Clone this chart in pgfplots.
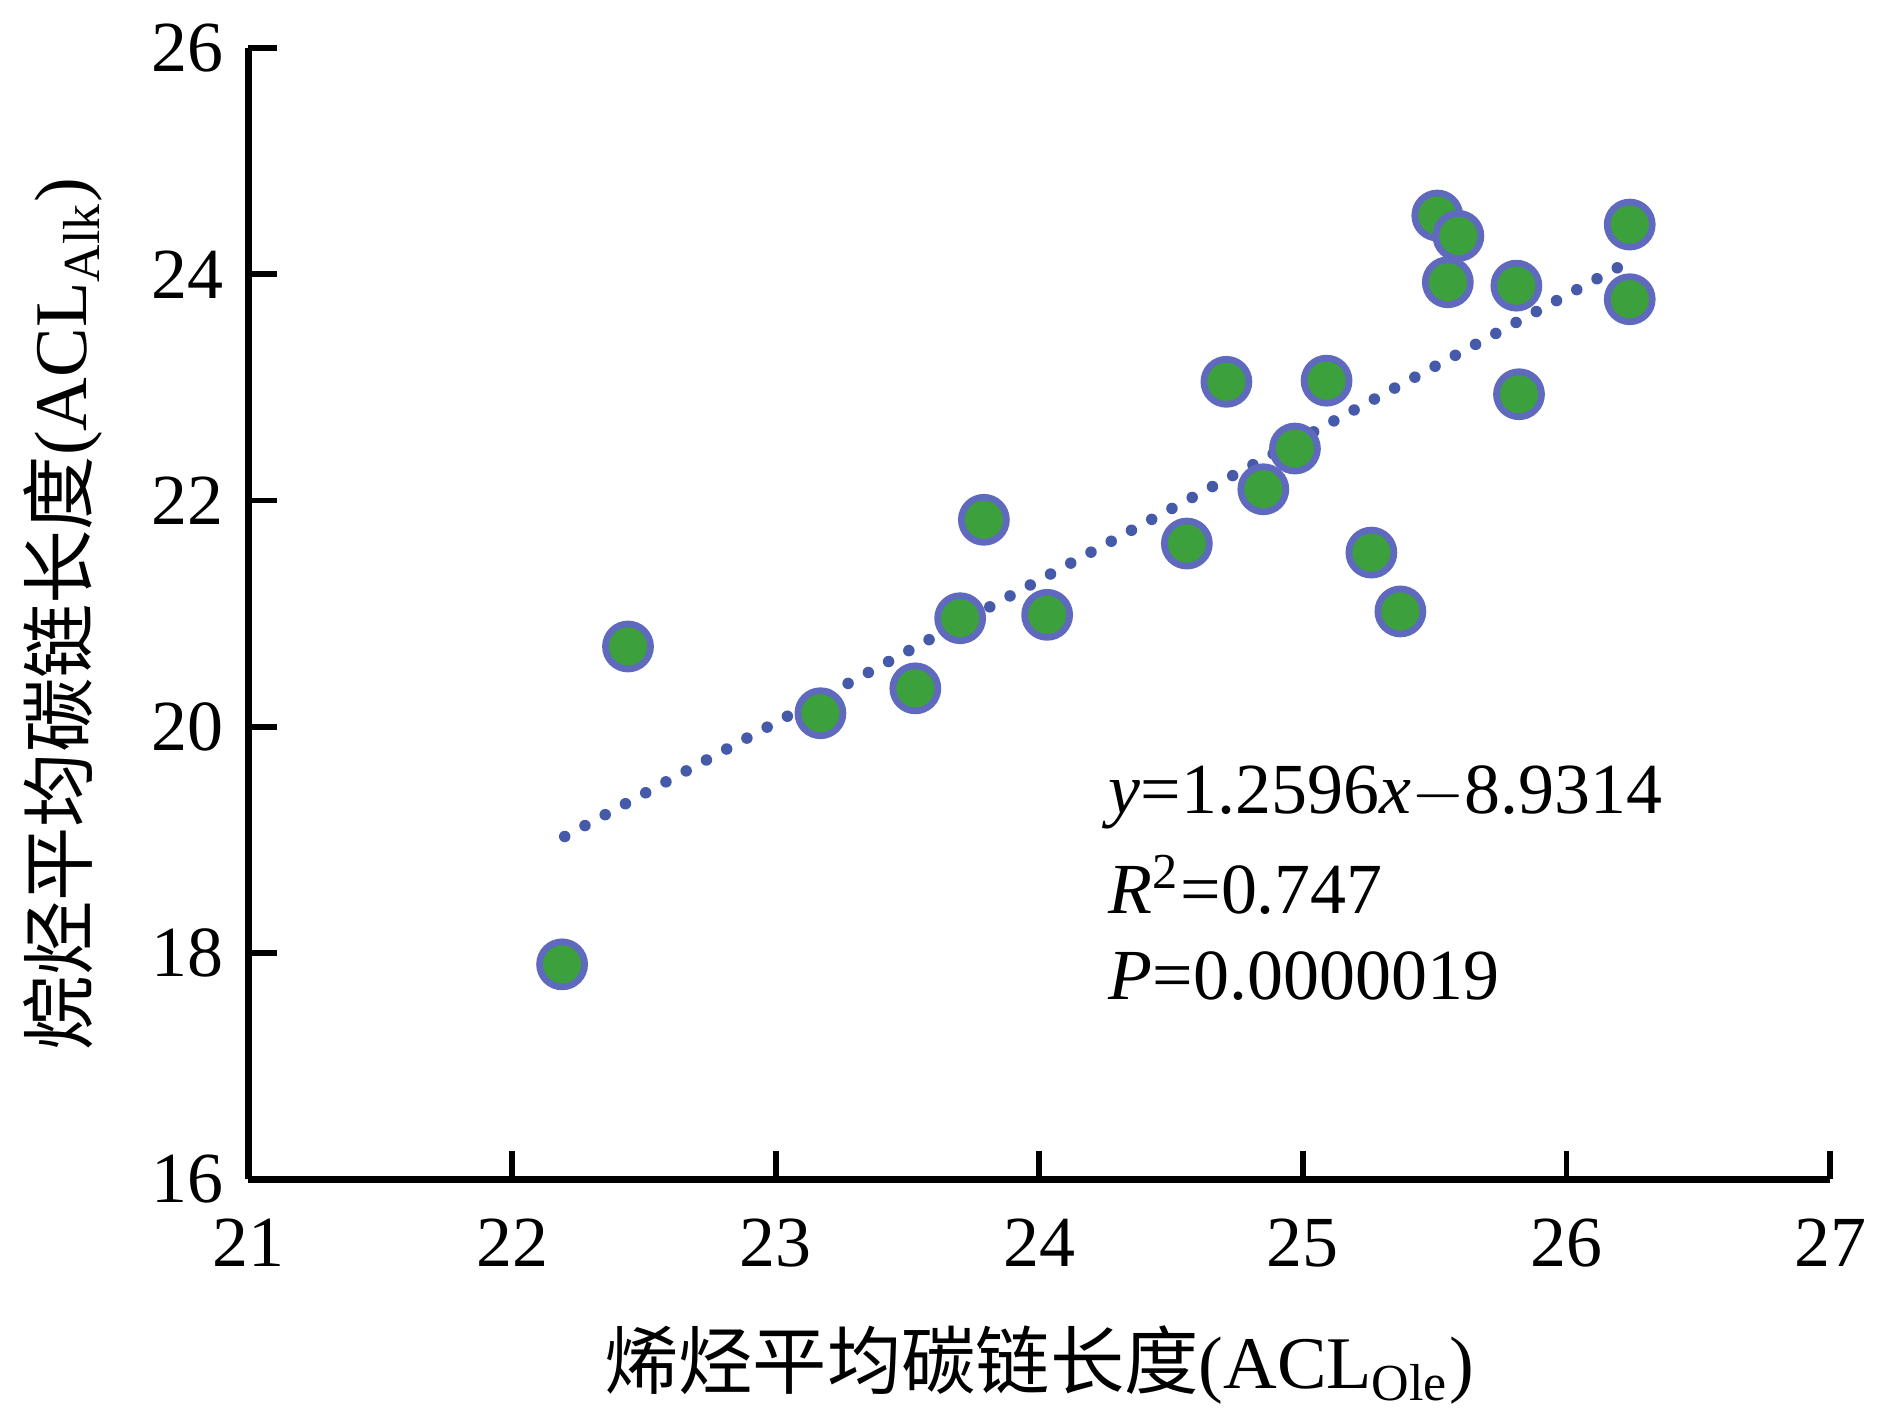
\documentclass[border=0pt]{standalone}
\usepackage{pgfplots}
\pgfplotsset{compat=1.18}
\usepackage{fontspec}
\setmainfont{Liberation Serif}
\newfontfamily\cjk{Noto Sans CJK SC}
\definecolor{ptfill}{RGB}{60,160,60}
\definecolor{ptedge}{RGB}{95,105,190}
\definecolor{trend}{RGB}{70,90,170}
\begin{document}
\fontsize{15}{18}\selectfont
\begin{tikzpicture}
\begin{axis}[
  scale only axis, width=330pt, height=236pt,
  xmin=21, xmax=27, ymin=16, ymax=26,
  xtick={21,...,27}, ytick={16,18,...,26},
  axis x line*=bottom, axis y line*=left,
  axis line style={line width=1.5pt, -},
  tick style={line width=1.2pt, black}, major tick length=6pt,
  tick align=inside,
  /pgf/number format/assume math mode=true,
  ticklabel style={font=\fontsize{15}{18}\selectfont},
  xticklabel style={yshift=-3pt},
  xlabel={{\cjk 烯烃平均碳链长度}(ACL\textsubscript{Ole})},
  ylabel={{\cjk 烷烃平均碳链长度}(ACL\textsubscript{Alk})},
  label style={font=\fontsize{15.5}{19}\selectfont},
  xlabel style={yshift=-2pt},
  clip=false,
]
\addplot[trend, line width=2.4pt, line cap=round, dash pattern=on 0pt off 4.8pt] coordinates {(22.2,19.03) (26.25,24.13)};
\addplot[only marks, mark=*, mark size=4.7pt, mark options={fill=ptfill, draw=ptedge, line width=1.4pt}] coordinates {
(22.19,17.9) (22.44,20.71) (23.17,20.12) (23.53,20.34) (23.70,20.96) (23.79,21.83)
(24.03,20.99) (24.56,21.62) (24.71,23.05) (24.85,22.10) (24.97,22.46) (25.09,23.06)
(25.26,21.54) (25.37,21.02) (25.51,24.52) (25.59,24.34) (25.55,23.93) (25.81,23.90)
(25.82,22.94) (26.24,24.44) (26.24,23.78)};
\node[anchor=west, font=\fontsize{15}{18}\selectfont] at (axis cs:24.17,19.38) {\textit{y}=1.2596\textit{x}$-$8.9314};
\node[anchor=west, font=\fontsize{15}{18}\selectfont] at (axis cs:24.17,18.6) {\textit{R}\textsuperscript{2}=0.747};
\node[anchor=west, font=\fontsize{15}{18}\selectfont] at (axis cs:24.17,17.8) {\textit{P}=0.0000019};
\end{axis}
\end{tikzpicture}
\end{document}
